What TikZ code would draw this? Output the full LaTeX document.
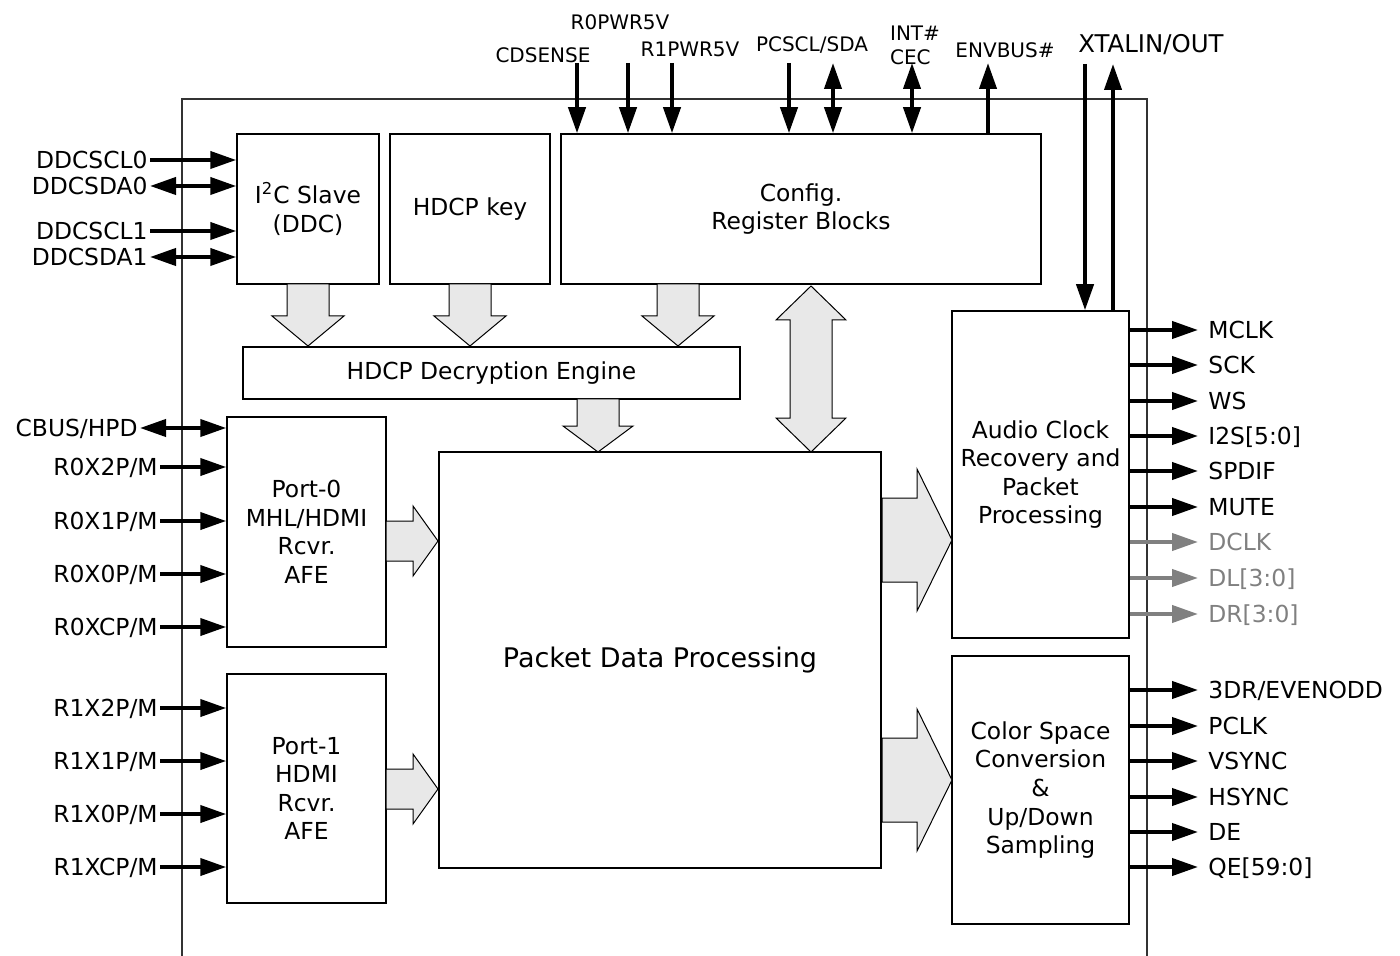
\documentclass[tikz,border=0pt]{standalone}
\usepackage{fontspec}
\setmainfont{DejaVu Sans}
\usetikzlibrary{arrows.meta, positioning}
\tikzset{
  x=0.5pt, y=-0.5pt, % one unit is one pixel of the drawing, y downwards
  pin/.style={line width=2pt, -{Triangle[length=13pt,width=8.5pt]}}, % one-way pin
  bipin/.style={line width=2pt, {Triangle[length=13pt,width=8.5pt]}-{Triangle[length=13pt,width=8.5pt]}},
  block/.style={draw, line width=0.75pt, fill=white, align=center, inner sep=0pt,
    font=\fontsize{11.7}{14.3}\selectfont},
  fat/.style={draw, line width=0.5pt, fill=black!9}, % wide data arrows
  lpin/.style={anchor=east, inner sep=1pt, text height=8.5pt, text depth=0pt,
    font=\fontsize{11.7}{14}\selectfont},
  rpin/.style={anchor=west, inner sep=5pt, text height=8.5pt, text depth=0pt,
    font=\fontsize{11.7}{14}\selectfont},
  tpin/.style={align=left, inner sep=0pt, font=\fontsize{10}{12}\selectfont},
}

\begin{document}
\begin{tikzpicture}
  \useasboundingbox (0,0) rectangle (1400,956);

  % chip outline
  \draw[line width=0.6pt, black!80] (182,956) -- (182,99) -- (1147,99) -- (1147,956);

  % blocks
  \node[block, minimum width=71pt, minimum height=75pt] (i2c) at (308,209)
    {I\textsuperscript{2}C Slave\\(DDC)};
  \node[block, minimum width=80pt, minimum height=75pt] (key) at (470,209) {HDCP key};
  \node[block, minimum width=240pt, minimum height=75pt] (cfg) at (801,209)
    {Config.\\Register Blocks};
  \node[block, minimum width=248.5pt, minimum height=26pt] (hdcp) at (491.5,373)
    {HDCP Decryption Engine};
  \node[block, minimum width=79.5pt, minimum height=115pt] (port0) at (306.5,532)
    {Port-0\\MHL/HDMI\\Rcvr.\\AFE};
  \node[block, minimum width=79.5pt, minimum height=114.5pt] (port1) at (306.5,788.5)
    {Port-1\\HDMI\\Rcvr.\\AFE};
  \node[block, minimum width=221pt, minimum height=208pt,
    font=\fontsize{13.5}{16}\selectfont] (pdp) at (660,660) {Packet Data Processing};
  \node[block, minimum width=88.5pt, minimum height=163.5pt] (audio) at (1040.5,474.5)
    {Audio Clock\\Recovery and\\Packet\\Processing};
  \node[block, minimum width=88.5pt, minimum height=134pt] (csc) at (1040.5,790)
    {Color Space\\Conversion\\\&\\Up/Down\\Sampling};

  % wide data arrows
  \foreach \x in {308,470,678}
    \draw[fat] (\x-21,284) -- (\x-21,316) -- (\x-36,316) -- (\x,346) -- (\x+36,316)
      -- (\x+21,316) -- (\x+21,284) -- cycle;
  \draw[fat] (577,399) -- (577,426) -- (563,426) -- (598,452) -- (633,426)
    -- (619,426) -- (619,399) -- cycle;
  \draw[fat] (811,286) -- (846,320) -- (832,320) -- (832,418) -- (846,418) -- (811,452)
    -- (776,418) -- (790,418) -- (790,320) -- (776,320) -- cycle;
  \foreach \y in {541,789}
    \draw[fat] (386,\y-20) -- (413,\y-20) -- (413,\y-35) -- (438,\y) -- (413,\y+35)
      -- (413,\y+20) -- (386,\y+20) -- cycle;
  \foreach \y in {540,780}
    \draw[fat] (882,\y-42) -- (917,\y-42) -- (917,\y-71) -- (952,\y) -- (917,\y+71)
      -- (917,\y+42) -- (882,\y+42) -- cycle;

  % DDC pins
  \foreach \t/\n/\y/\s in {DDCSCL0/scl0/160/pin, DDCSDA0/sda0/186/bipin,
                           DDCSCL1/scl1/231/pin, DDCSDA1/sda1/257/bipin}{
    \node[lpin] (\n) at (150,\y) {\t};
    \draw[\s] (\n.east) -- (\n.east -| i2c.west);
  }

  % HDMI port pins
  \node[lpin] (cbus) at (140,428) {CBUS/HPD};
  \draw[bipin] (cbus.east) -- (cbus.east -| port0.west);
  \foreach \t/\n/\y in {{R0X2P/M}/r0x2/467, {R0X1P/M}/r0x1/521, {R0X0P/M}/r0x0/574,
                        {R0XCP/M}/r0xc/627}{
    \node[lpin] (\n) at (160,\y) {\t};
    \draw[pin] (\n.east) -- (\n.east -| port0.west);
  }
  \foreach \t/\n/\y in {{R1X2P/M}/r1x2/708, {R1X1P/M}/r1x1/761, {R1X0P/M}/r1x0/814,
                        {R1XCP/M}/r1xc/867}{
    \node[lpin] (\n) at (160,\y) {\t};
    \draw[pin] (\n.east) -- (\n.east -| port1.west);
  }

  % audio outputs
  \foreach \t/\n/\y/\c in {MCLK/mclk/330/black, SCK/sck/365/black, WS/ws/401/black,
      I2S[5:0]/i2s/436/black, SPDIF/spdif/471/black, MUTE/mute/507/black,
      DCLK/dclk/542/black!50, DL[3:0]/dl/578/black!50, DR[3:0]/dr/614/black!50}{
    \node[rpin, text=\c] (\n) at (1198,\y) {\t};
    \draw[pin, draw=\c, fill=\c] (\n.west -| audio.east) -- (\n.west);
  }

  % video outputs
  \foreach \t/\n/\y in {{3DR/EVENODD}/evenodd/690, PCLK/pclk/726, VSYNC/vsync/761,
      HSYNC/hsync/797, DE/de/832, QE[59:0]/qe/867}{
    \node[rpin] (\n) at (1198,\y) {\t};
    \draw[pin] (\n.west -| csc.east) -- (\n.west);
  }

  % top pins
  \foreach \n/\x/\s in {cdsense/577/pin, r0pwr/628/pin, r1pwr/672/pin,
                        pcscl/789/pin, pcsda/833/bipin, intcec/912/bipin}{
    \coordinate (\n) at (\x,63);
    \draw[\s] (\n) -- (\n |- cfg.north);
  }
  \coordinate (envbus) at (988,63);
  \draw[pin] (envbus |- cfg.north) -- (envbus);
  \coordinate (xtalin) at (1085,64);
  \draw[pin] (xtalin) -- (xtalin |- audio.north);
  \coordinate (xtalout) at (1113,64);
  \draw[pin] (xtalout |- audio.north) -- (xtalout);

  \node[tpin] (cdsenselbl) at (543,55) {CDSENSE};
  \node[tpin] (r0pwrlbl) at (620,22) {R0PWR5V};
  \node[tpin] (r1pwrlbl) at (690,49) {R1PWR5V};
  \node[tpin] (pclbl) at (812,45) {PCSCL/SDA};
  \node[tpin] (intlbl) at (915,45) {INT\#\\CEC};
  \node[tpin] (envlbl) at (1005,50) {ENVBUS\#};
  \node[tpin, font=\fontsize{12.2}{14}\selectfont] (xtallbl) at (1151,45) {XTALIN/OUT};
\end{tikzpicture}
\end{document}
